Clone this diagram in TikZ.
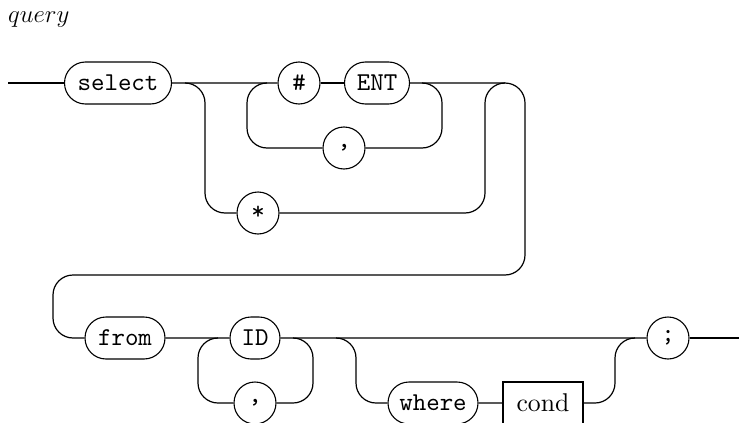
\documentclass[tikz,border=0pt]{standalone}
\usepackage{fontspec}
\usetikzlibrary{shapes.misc}
% 10pt design sizes, scaled up, for the heavier strokes of the rail labels
\newfontfamily\railtt{lmmono10-regular}[Extension=.otf]
\newfontfamily\railrm{lmroman10-regular}[Extension=.otf]
\newcommand\railsize{\fontsize{25.7}{30}\selectfont}
\tikzset{
  rail/.style={line width=1.2pt, rounded corners=20pt},
  term/.style={draw, line width=1.1pt, rounded rectangle, minimum height=42pt,
    inner sep=0pt, font=\railtt\railsize},
  termc/.style={draw, line width=1.1pt, circle, minimum size=42pt,
    inner sep=0pt, font=\railtt\railsize},
  nonterm/.style={draw, line width=1.4pt, rectangle, minimum height=42pt,
    inner sep=0pt, font=\railrm\railsize},
}
\begin{document}
\begin{tikzpicture}[x=1pt, y=-1pt]
\useasboundingbox (0,0) rectangle (739,423);

% rule name
\node[anchor=base west, inner sep=0pt, font=\fontsize{28.5}{32}\selectfont] (name) at (8,22) {$query$};

% first row: select ( # ENT { , } | * )
\coordinate (in) at (8,83);
\node[term, minimum width=107pt] (select) at (118,83) {select};
\node[termc] (hash) at (299,83) {\#};
\node[term, minimum width=65pt] (ent) at (377,83) {ENT};
\node[termc] (comA) at (344,148) {,};
\node[termc] (star) at (258,213) {*};

% second row: from ID { , } [ where cond ] ;
\node[term, minimum width=80pt] (from) at (125,338) {from};
\node[term, minimum width=50pt] (id) at (255,338) {ID};
\node[termc] (comB) at (255,403) {,};
\node[term, minimum width=90pt] (where) at (433,403) {where};
\node[nonterm, minimum width=80pt] (cond) at (543,403) {cond};
\node[termc] (semi) at (668,338) {;};
\coordinate (out) at (739,338);

% main line, first row
\draw[rail] (in) -- (select);
\draw[rail] (select) -- (hash);
\draw[rail] (hash) -- (ent);
% repetition of "# ENT" separated by ","
\coordinate (la) at (267,83);
\coordinate (ra) at (422,83);
\draw[rail] (la) -- (247,83) -- (247,148) -- (comA.west);
\draw[rail] (comA.east) -- (442,148) -- (442,83) -- (ra);
% alternative "*"
\coordinate (sa) at (185,83);
\coordinate (sb) at (505,83);
\draw[rail] (sa) -- (205,83) -- (205,213) -- (star.west);
\draw[rail] (star.east) -- (485,213) -- (485,83) -- (sb);
% wrap to the second row
\draw[rail] (ent.east) -- (525,83) -- (525,275) -- (53,275) -- (53,338) -- (from.west);

% second row
\draw[rail] (from) -- (id);
\draw[rail] (id) -- (semi);
\draw[rail] (semi) -- (out);
% repetition of ID separated by ","
\coordinate (lb) at (218,338);
\coordinate (rb) at (293,338);
\draw[rail] (lb) -- (198,338) -- (198,403) -- (comB.west);
\draw[rail] (comB.east) -- (313,403) -- (313,338) -- (rb);
% optional where clause
\coordinate (wa) at (336,338);
\coordinate (wb) at (635,338);
\draw[rail] (wa) -- (356,338) -- (356,403) -- (where.west);
\draw[rail] (where) -- (cond);
\draw[rail] (cond.east) -- (615,403) -- (615,338) -- (wb);
\end{tikzpicture}
\end{document}
